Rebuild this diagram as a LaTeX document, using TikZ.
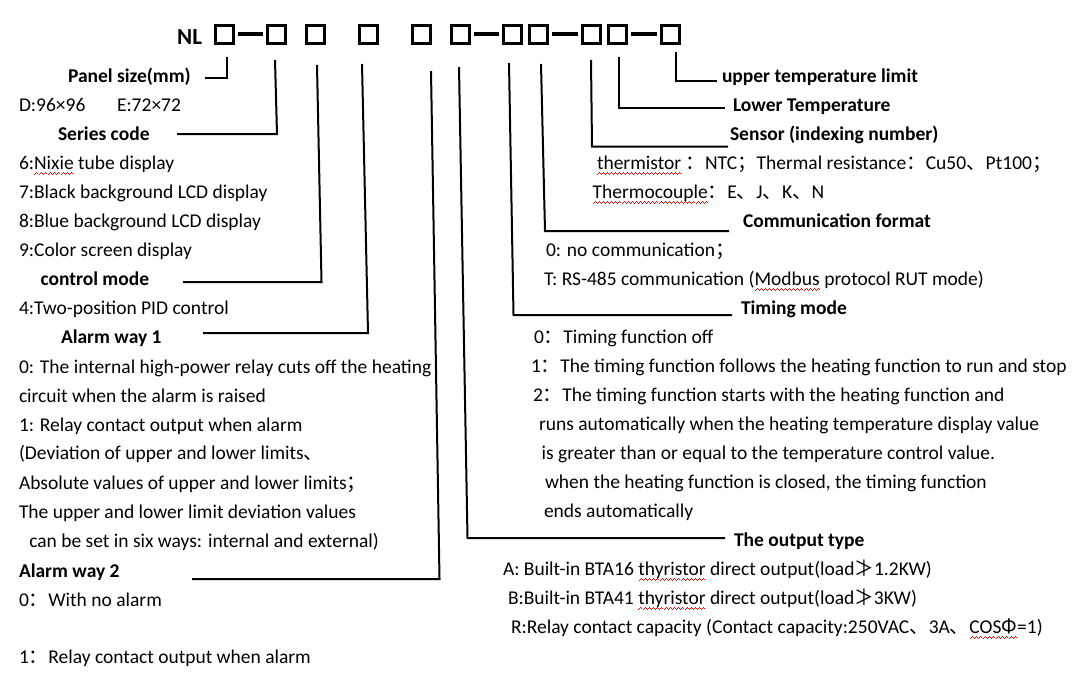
\documentclass[tikz,border=0pt]{standalone}
\usepackage{fontspec}
\setmainfont{Carlito}
\newfontfamily\cjk{Noto Sans CJK SC}
\usetikzlibrary{calc}
\newsavebox\sqbox
\newcommand\wavepiece{\hbox{\rule[-5.4pt]{1pt}{0.9pt}\rule[-4.7pt]{1pt}{0.9pt}\rule[-4.0pt]{1pt}{0.9pt}\rule[-4.7pt]{1pt}{0.9pt}}}
\newcommand\squig[1]{\sbox\sqbox{#1}\rlap{{\color{red}\hbox to \wd\sqbox{\xleaders\wavepiece\hfil}}}\usebox\sqbox}
\newcommand\cp[1]{{\cjk #1}}
\tikzset{
  txt/.style={anchor=base west, inner sep=0pt, outer sep=0pt, font=\fontsize{19.5}{23}\selectfont},
  hd/.style={txt, font=\fontsize{19.5}{23}\selectfont\bfseries},
  sq/.style={draw=black, line width=3pt, minimum width=18pt, minimum height=18pt, inner sep=0pt, outer sep=0pt},
  lead/.style={draw=black, line width=2pt},
  dashbar/.style={draw=black, line width=3.5pt}
}
\begin{document}
\begin{tikzpicture}[x=1pt,y=-1pt]
\useasboundingbox (0,0) rectangle (1091,689);
\fill[white] (0,0) rectangle (1091,689);
% code row
\node[anchor=base west, inner sep=0pt, font=\fontsize{23}{26}\selectfont\bfseries] (nl) at (177,44) {NL};
\node[sq] (s1) at (224,34) {};
\node[sq] (s2) at (276,34) {};
\node[sq] (s3) at (315,34) {};
\node[sq] (s4) at (368,34) {};
\node[sq] (s5) at (421,34) {};
\node[sq] (s6) at (460,34) {};
\node[sq] (s7) at (512,34) {};
\node[sq] (s8) at (538,34) {};
\node[sq] (s9) at (591,34) {};
\node[sq] (s10) at (617,34) {};
\node[sq] (s11) at (670,34) {};
\draw[dashbar] ($(s1.east)+(4.5,0)$) coordinate (d1a) -- ($(s2.west)+(-4.5,0)$) coordinate (d1b);
\draw[dashbar] ($(s6.east)+(4.5,0)$) coordinate (d2a) -- ($(s7.west)+(-4.5,0)$) coordinate (d2b);
\draw[dashbar] ($(s8.east)+(4.5,0)$) coordinate (d3a) -- ($(s9.west)+(-4.5,0)$) coordinate (d3b);
\draw[dashbar] ($(s10.east)+(4.5,0)$) coordinate (d4a) -- ($(s11.west)+(-4.5,0)$) coordinate (d4b);

% left column
\node[hd] (pan) at (68,82) {Panel size(mm)};
\node[txt] (dd) at (19,111) {D:96×96};
\node[txt] (ee) at (117,111) {E:72×72};
\node[hd] (ser) at (58,140) {Series code};
\node[txt] (l6) at (19,169) {6:\squig{Nixie} tube display};
\node[txt] (l7) at (19,198) {7:Black background LCD display};
\node[txt] (l8) at (19,227) {8:Blue background LCD display};
\node[txt] (l9) at (19,256) {9:Color screen display};
\node[hd] (ctl) at (40.5,285.5) {control mode};
\node[txt] (l4) at (19,314) {4:Two-position PID control};
\node[hd] (al1) at (61,343) {Alarm way 1};
\node[txt] (a0) at (19,373) {0: The internal high-power relay cuts off the heating};
\node[txt] (a0b) at (19,402) {circuit when the alarm is raised};
\node[txt] (a1) at (19,431) {1: Relay contact output when alarm};
\node[txt] (a1b) at (19,459) {(Deviation of upper and lower limits\cp{、}};
\node[txt] (a1c) at (19,489) {Absolute values of upper and lower limits\cp{；}};
\node[txt] (a1d) at (19,518) {The upper and lower limit deviation values};
\node[txt] (a1e) at (29.3,547) {can be set in six ways: internal and external)};
\node[hd] (al2) at (19,577) {Alarm way 2};
\node[txt] (b0) at (19,606) {0\cp{：}With no alarm};
\node[txt] (b1) at (19,663) {1\cp{：}Relay contact output when alarm};

% right column
\node[hd] (up) at (722,82) {upper temperature limit};
\node[hd] (lo) at (733,111) {Lower Temperature};
\node[hd] (sen) at (730,140) {Sensor (indexing number)};
\node[txt] (th) at (597,169) {\squig{thermistor} \cp{：}NTC\cp{；}Thermal resistance\cp{：}Cu50\cp{、}Pt100\cp{；}};
\node[txt] (tc) at (592.7,198) {\squig{Thermocouple}\cp{：}E\cp{、}J\cp{、}K\cp{、}N};
\node[hd] (com) at (743,227) {Communication format};
\node[txt] (c0) at (546,256.7) {0: no communication\cp{；}};
\node[txt] (cT) at (544,285) {T: RS-485 communication (\squig{Modbus} protocol RUT mode)};
\node[hd] (tim) at (741,314) {Timing mode};
\node[txt] (t0) at (534,343) {0\cp{：}Timing function off};
\node[txt] (t1) at (531,372) {1\cp{：}The timing function follows the heating function to run and stop};
\node[txt] (t2) at (533,401.5) {2\cp{：}The timing function starts with the heating function and};
\node[txt] (t2b) at (539,430) {runs automatically when the heating temperature display value};
\node[txt] (t2c) at (541.7,459) {is greater than or equal to the temperature control value.};
\node[txt] (t2d) at (545,488) {when the heating function is closed, the timing function};
\node[txt] (t2e) at (544,517) {ends automatically};
\node[hd] (out) at (734,546) {The output type};
\node[txt] (oA) at (503,575) {A: Built-in BTA16 \squig{thyristor} direct output(load\cp{≯}1.2KW)};
\node[txt] (oB) at (508,604) {B:Built-in BTA41 \squig{thyristor} direct output(load\cp{≯}3KW)};
\node[txt] (oR) at (511,633) {R:Relay contact capacity (Contact capacity:250VAC\cp{、}3A\cp{、}\squig{COS\cp{Φ}}=1)};

% leaders
\coordinate (p1a) at (226.5,57); \coordinate (p1b) at (226.5,78); \coordinate (p1c) at (205,78);
\draw[lead] (p1a) -- (p1b) -- (p1c);
\coordinate (p2a) at (275,60); \coordinate (p2b) at (277,134); \coordinate (p2c) at (177,134);
\draw[lead] (p2a) -- (p2b) -- (p2c);
\coordinate (p3a) at (317,65); \coordinate (p3b) at (321.5,282); \coordinate (p3c) at (183,282);
\draw[lead] (p3a) -- (p3b) -- (p3c);
\coordinate (p4a) at (362,64); \coordinate (p4b) at (368,333); \coordinate (p4c) at (203,333);
\draw[lead] (p4a) -- (p4b) -- (p4c);
\coordinate (p5a) at (431,71); \coordinate (p5b) at (439.5,579); \coordinate (p5c) at (192,579);
\draw[lead] (p5a) -- (p5b) -- (p5c);
\coordinate (p6a) at (459,67); \coordinate (p6b) at (467.5,538); \coordinate (p6c) at (725,538);
\draw[lead] (p6a) -- (p6b) -- (p6c);
\coordinate (p7a) at (509,63); \coordinate (p7b) at (513.5,315); \coordinate (p7c) at (732,315);
\draw[lead] (p7a) -- (p7b) -- (p7c);
\coordinate (p8a) at (541,64); \coordinate (p8b) at (545,231); \coordinate (p8c) at (729,231);
\draw[lead] (p8a) -- (p8b) -- (p8c);
\coordinate (p9a) at (591,60); \coordinate (p9b) at (592,146.5); \coordinate (p9c) at (728,146.5);
\draw[lead] (p9a) -- (p9b) -- (p9c);
\coordinate (p10a) at (619,57); \coordinate (p10b) at (619,108); \coordinate (p10c) at (725,108);
\draw[lead] (p10a) -- (p10b) -- (p10c);
\coordinate (p11a) at (676,52); \coordinate (p11b) at (676,81); \coordinate (p11c) at (717,81);
\draw[lead] (p11a) -- (p11b) -- (p11c);
\end{tikzpicture}
\end{document}
